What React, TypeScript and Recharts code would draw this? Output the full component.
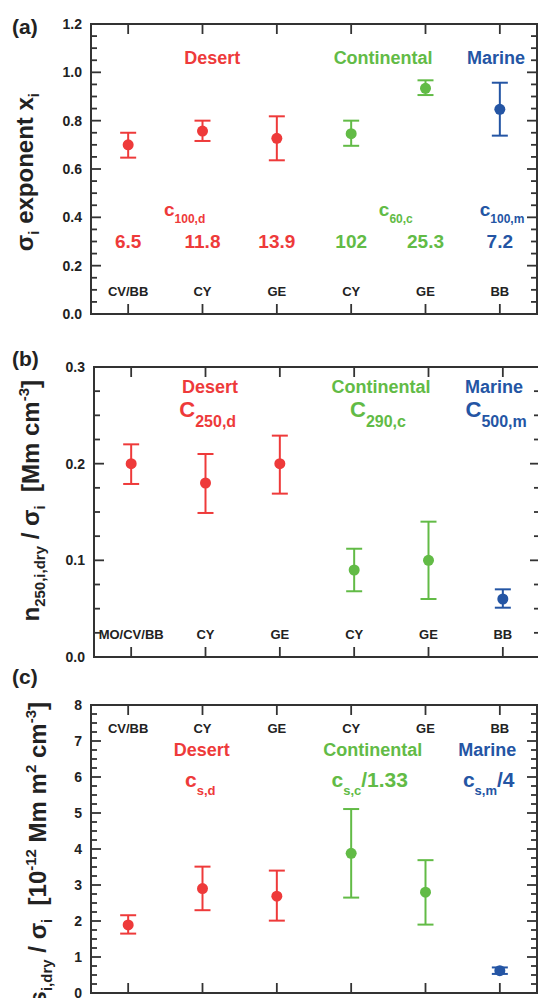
import { ScatterChart, Scatter, XAxis, YAxis, ErrorBar, ReferenceArea } from "recharts";

// six sampling sites, grouped by aerosol type
const categoryPos = [1, 2, 3, 4, 5, 6];
const groupIdx = { desert: [0, 1, 2], continental: [3, 4], marine: [5] };

const sitesA = ["CV/BB", "CY", "GE", "CY", "GE", "BB"];
const sitesB = ["MO/CV/BB", "CY", "GE", "CY", "GE", "BB"];
const sitesC = ["CV/BB", "CY", "GE", "CY", "GE", "BB"];

// (a) sigma exponent x_i
const expMean = [0.7, 0.757, 0.727, 0.746, 0.934, 0.847];
const expLow = [0.647, 0.716, 0.636, 0.696, 0.906, 0.738];
const expHigh = [0.75, 0.8, 0.818, 0.8, 0.967, 0.957];
const expCoeff = ["6.5", "11.8", "13.9", "102", "25.3", "7.2"];

// (b) n_250 / sigma
const numMean = [0.2, 0.18, 0.2, 0.09, 0.1, 0.06];
const numLow = [0.179, 0.149, 0.169, 0.068, 0.06, 0.051];
const numHigh = [0.22, 0.21, 0.229, 0.112, 0.14, 0.07];

// (c) s / sigma
const surfMean = [1.89, 2.9, 2.69, 3.88, 2.8, 0.62];
const surfLow = [1.65, 2.3, 2.01, 2.65, 1.9, 0.53];
const surfHigh = [2.16, 3.51, 3.4, 5.11, 3.69, 0.71];

const majorA = [0, 0.2, 0.4, 0.6, 0.8, 1.0, 1.2];
const majorB = [0, 0.1, 0.2, 0.3];
const majorC = [0, 1, 2, 3, 4, 5, 6, 7, 8];

const FONT = "'Liberation Sans', Arial, Helvetica, sans-serif";
const FRAME = "#333";
const INK = "#222";
const COLORS = { desert: "#ee3a3a", continental: "#62bb46", marine: "#2455a4" };

function withMinors(majors: number[], parts: number) {
  const out: number[] = [];
  for (let i = 0; i < majors.length - 1; i++) {
    const step = (majors[i + 1] - majors[i]) / parts;
    for (let k = 0; k < parts; k++) out.push(+(majors[i] + k * step).toFixed(6));
  }
  out.push(majors[majors.length - 1]);
  return out;
}

function rows(mean: number[], low: number[], high: number[], idx: number[]) {
  return idx.map((i) => ({
    x: categoryPos[i],
    y: mean[i],
    err: [mean[i] - low[i], high[i] - mean[i]],
  }));
}

type Note = {
  x: number;
  y: number;
  main: string;
  sub?: string;
  tail?: string;
  color: string;
  size: number;
  subSize?: number;
  subDy?: number;
};

function NoteShape(props: any) {
  const { cx, cy, payload } = props;
  const n = payload as Note;
  return (
    <text
      x={cx}
      y={cy}
      textAnchor="middle"
      fill={n.color}
      fontSize={n.size}
      fontWeight="bold"
      fontFamily={FONT}
    >
      {n.main}
      {n.sub && (
        <tspan fontSize={n.subSize} dy={n.subDy}>
          {n.sub}
        </tspan>
      )}
      {n.tail && (
        <tspan fontSize={n.size} dy={-(n.subDy || 0)}>
          {n.tail}
        </tspan>
      )}
    </text>
  );
}

function siteNotes(names: string[], y: number): Note[] {
  return names.map((s, i) => ({ x: categoryPos[i], y, main: s, color: INK, size: 13 }));
}

const notesA: Note[] = [
  ...siteNotes(sitesA, 0.0745),
  { x: 2.13, y: 1.034, main: "Desert", color: COLORS.desert, size: 18 },
  { x: 4.43, y: 1.034, main: "Continental", color: COLORS.continental, size: 18 },
  { x: 5.95, y: 1.034, main: "Marine", color: COLORS.marine, size: 18 },
  { x: 1.76, y: 0.405, main: "c", sub: "100,d", color: COLORS.desert, size: 19, subSize: 12, subDy: 7 },
  { x: 4.6, y: 0.405, main: "c", sub: "60,c", color: COLORS.continental, size: 19, subSize: 12, subDy: 7 },
  { x: 6.03, y: 0.405, main: "c", sub: "100,m", color: COLORS.marine, size: 19, subSize: 12, subDy: 7 },
  ...expCoeff.map((v, i) => ({
    x: categoryPos[i],
    y: 0.272,
    main: v,
    color: i < 3 ? COLORS.desert : i < 5 ? COLORS.continental : COLORS.marine,
    size: 19,
  })),
];

const notesB: Note[] = [
  ...siteNotes(sitesB, 0.0183),
  { x: 2.06, y: 0.2734, main: "Desert", color: COLORS.desert, size: 18 },
  { x: 4.36, y: 0.2734, main: "Continental", color: COLORS.continental, size: 18 },
  { x: 5.88, y: 0.2734, main: "Marine", color: COLORS.marine, size: 18 },
  { x: 2.03, y: 0.2486, main: "C", sub: "250,d", color: COLORS.desert, size: 22, subSize: 16, subDy: 10 },
  { x: 4.32, y: 0.2486, main: "C", sub: "290,c", color: COLORS.continental, size: 22, subSize: 16, subDy: 10 },
  { x: 5.91, y: 0.2486, main: "C", sub: "500,m", color: COLORS.marine, size: 22, subSize: 16, subDy: 10 },
];

const notesC: Note[] = [
  ...siteNotes(sitesC, 7.23),
  { x: 1.99, y: 6.58, main: "Desert", color: COLORS.desert, size: 18 },
  { x: 4.29, y: 6.58, main: "Continental", color: COLORS.continental, size: 18 },
  { x: 5.83, y: 6.58, main: "Marine", color: COLORS.marine, size: 18 },
  { x: 1.97, y: 5.73, main: "c", sub: "s,d", color: COLORS.desert, size: 21, subSize: 13, subDy: 8 },
  { x: 4.25, y: 5.73, main: "c", sub: "s,c", tail: "/1.33", color: COLORS.continental, size: 21, subSize: 13, subDy: 8 },
  { x: 5.85, y: 5.73, main: "c", sub: "s,m", tail: "/4", color: COLORS.marine, size: 21, subSize: 13, subDy: 8 },
];

// left axis draws its own inward ticks plus the mirrored ones on the right frame edge
function makeYTick(majors: number[], fmt: (v: number) => string, plotWidth: number) {
  return (props: any) => {
    const { x, y, payload } = props;
    const v = payload.value;
    const isMajor = majors.some((m) => Math.abs(m - v) < 1e-9);
    const len = isMajor ? 10 : 6;
    const xr = x + plotWidth;
    return (
      <g>
        <line x1={x} y1={y} x2={x + len} y2={y} stroke={FRAME} strokeWidth={1.8} />
        <line x1={xr} y1={y} x2={xr - len} y2={y} stroke={FRAME} strokeWidth={1.8} />
        {isMajor && (
          <text x={x - 9} y={y} dy="0.36em" textAnchor="end" fontSize={14} fontWeight="bold" fill={INK} fontFamily={FONT}>
            {fmt(v)}
          </text>
        )}
      </g>
    );
  };
}

// bottom axis draws ticks at the bottom and top frame edges
function makeXTick(plotHeight: number) {
  return (props: any) => {
    const { x, y } = props;
    const yt = y - plotHeight;
    return (
      <g>
        <line x1={x} y1={y} x2={x} y2={y - 10} stroke={FRAME} strokeWidth={1.8} />
        <line x1={x} y1={yt} x2={x} y2={yt + 10} stroke={FRAME} strokeWidth={1.8} />
      </g>
    );
  };
}

type PanelProps = {
  top: number;
  width: number;
  height: number;
  margin: { top: number; right: number; bottom: number; left: number };
  yWidth: number;
  majors: number[];
  minorParts: number;
  fmt: (v: number) => string;
  mean: number[];
  low: number[];
  high: number[];
  notes: Note[];
};

function Panel(p: PanelProps) {
  const domain: [number, number] = [p.majors[0], p.majors[p.majors.length - 1]];
  const yTicks = withMinors(p.majors, p.minorParts);
  const groups: ("desert" | "continental" | "marine")[] = ["desert", "continental", "marine"];
  const xHeight = 1;
  const plotWidth = p.width - p.margin.left - p.margin.right - p.yWidth;
  const plotHeight = p.height - p.margin.top - p.margin.bottom - xHeight;
  return (
    <div style={{ position: "absolute", left: 0, top: p.top }}>
      <ScatterChart width={p.width} height={p.height} margin={p.margin}>
        <XAxis
          xAxisId="b"
          type="number"
          dataKey="x"
          orientation="bottom"
          domain={[0.5, 6.5]}
          ticks={categoryPos}
          interval={0}
          height={xHeight}
          tickSize={0}
          tickMargin={0}
          tickLine={false}
          tick={makeXTick(plotHeight)}
          axisLine={false}
        />
        <YAxis
          yAxisId="l"
          type="number"
          dataKey="y"
          orientation="left"
          domain={domain}
          ticks={yTicks}
          interval={0}
          width={p.yWidth}
          tickSize={0}
          tickMargin={0}
          tickLine={false}
          tick={makeYTick(p.majors, p.fmt, plotWidth)}
          axisLine={false}
        />
        <ReferenceArea
          xAxisId="b"
          yAxisId="l"
          x1={0.5}
          x2={6.5}
          y1={domain[0]}
          y2={domain[1]}
          fill="none"
          fillOpacity={0}
          stroke={FRAME}
          strokeWidth={2}
          strokeOpacity={1}
          ifOverflow="visible"
        />
        <Scatter
          xAxisId="b"
          yAxisId="l"
          data={p.notes}
          isAnimationActive={false}
          shape={(props: any) => <NoteShape {...props} />}
        />
        {groups.map((g) => (
          <Scatter
            key={g}
            xAxisId="b"
            yAxisId="l"
            data={rows(p.mean, p.low, p.high, groupIdx[g])}
            isAnimationActive={false}
            shape={(props: any) => <circle cx={props.cx} cy={props.cy} r={5.5} fill={COLORS[g]} />}
          >
            <ErrorBar dataKey="err" direction="y" width={8} strokeWidth={2} stroke={COLORS[g]} isAnimationActive={false} />
          </Scatter>
        ))}
      </ScatterChart>
    </div>
  );
}

const titleStyle = { fontFamily: FONT, fontWeight: "bold" as const, fill: INK };

export default function App() {
  return (
    <div
      style={{
        position: "absolute",
        left: 0,
        top: 0,
        width: 538,
        height: 998,
        overflow: "hidden",
        background: "#fff",
      }}
    >
      <Panel
        top={0}
        width={538}
        height={330}
        margin={{ top: 24, right: 1, bottom: 15, left: 0 }}
        yWidth={91}
        majors={majorA}
        minorParts={4}
        fmt={(v) => v.toFixed(1)}
        mean={expMean}
        low={expLow}
        high={expHigh}
        notes={notesA}
      />
      <Panel
        top={330}
        width={541}
        height={342}
        margin={{ top: 37, right: 1, bottom: 14, left: 0 }}
        yWidth={94}
        majors={majorB}
        minorParts={4}
        fmt={(v) => v.toFixed(1)}
        mean={numMean}
        low={numLow}
        high={numHigh}
        notes={notesB}
      />
      <Panel
        top={660}
        width={538}
        height={338}
        margin={{ top: 45, right: 1, bottom: 4, left: 0 }}
        yWidth={91}
        majors={majorC}
        minorParts={4}
        fmt={(v) => String(v)}
        mean={surfMean}
        low={surfLow}
        high={surfHigh}
        notes={notesC}
      />
      <svg width={538} height={998} style={{ position: "absolute", left: 0, top: 0, pointerEvents: "none" }}>
        <text x={12} y={34} fontSize={21} {...titleStyle}>(a)</text>
        <text x={12} y={366} fontSize={21} {...titleStyle}>(b)</text>
        <text x={12} y={684} fontSize={21} {...titleStyle}>(c)</text>

        <text transform="translate(33,93) rotate(-90)" textAnchor="end" fontSize={24} {...titleStyle}>
          σ<tspan fontSize={15} dy={6}>i</tspan>
          <tspan dy={-6}> exponent x</tspan>
          <tspan fontSize={15} dy={6}>i</tspan>
        </text>

        <text transform="translate(39,380) rotate(-90)" textAnchor="end" fontSize={24} {...titleStyle}>
          n<tspan fontSize={15} dy={6}>250,i,dry</tspan>
          <tspan dy={-6}> / σ</tspan>
          <tspan fontSize={15} dy={6}>i</tspan>
          <tspan dy={-6}>{"\u00a0\u00a0[Mm cm"}</tspan>
          <tspan fontSize={15} dy={-10}>-3</tspan>
          <tspan dy={10}>]</tspan>
        </text>

        <text transform="translate(46,702) rotate(-90)" textAnchor="end" fontSize={24} {...titleStyle}>
          s<tspan fontSize={15} dy={6}>i,dry</tspan>
          <tspan dy={-6}> / σ</tspan>
          <tspan fontSize={15} dy={6}>i</tspan>
          <tspan dy={-6}>{"\u00a0\u00a0[10"}</tspan>
          <tspan fontSize={15} dy={-10}>-12</tspan>
          <tspan dy={10}> Mm m</tspan>
          <tspan fontSize={15} dy={-10}>2</tspan>
          <tspan dy={10}> cm</tspan>
          <tspan fontSize={15} dy={-10}>-3</tspan>
          <tspan dy={10}>]</tspan>
        </text>
      </svg>
    </div>
  );
}
